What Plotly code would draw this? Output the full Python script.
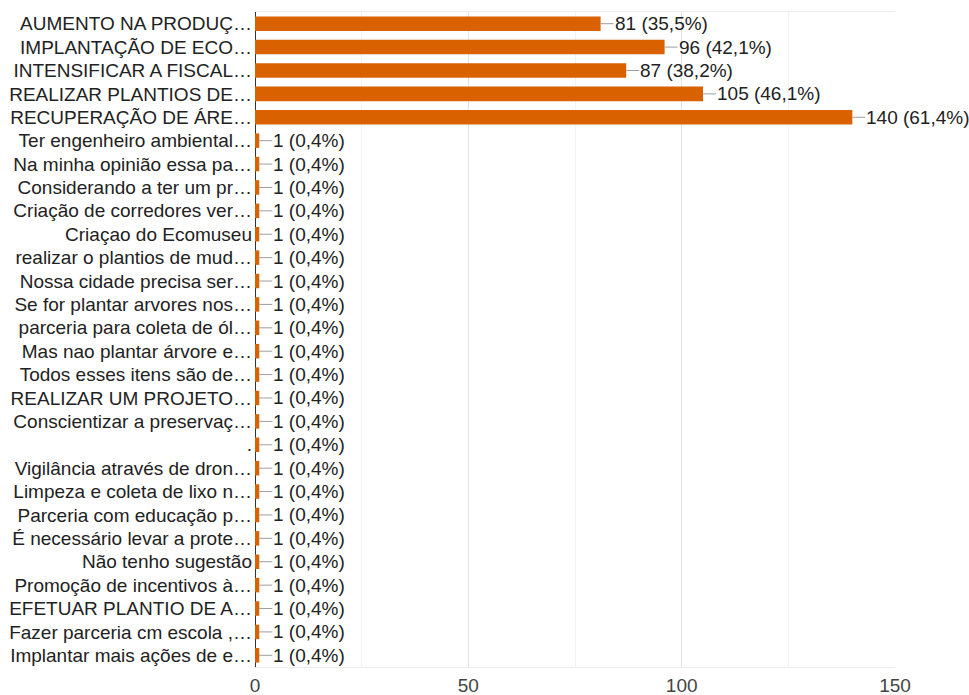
import plotly.graph_objects as go

categories = [
    "AUMENTO NA PRODUÇ…",
    "IMPLANTAÇÃO DE ECO…",
    "INTENSIFICAR A FISCAL…",
    "REALIZAR PLANTIOS DE…",
    "RECUPERAÇÃO DE ÁRE…",
    "Ter engenheiro ambiental…",
    "Na minha opinião essa pa…",
    "Considerando a ter um pr…",
    "Criação de corredores ver…",
    "Criaçao do Ecomuseu",
    "realizar o plantios de mud…",
    "Nossa cidade precisa ser…",
    "Se for plantar arvores nos…",
    "parceria para coleta de ól…",
    "Mas nao plantar árvore e…",
    "Todos esses itens são de…",
    "REALIZAR UM PROJETO…",
    "Conscientizar a preservaç…",
    ".",
    "Vigilância através de dron…",
    "Limpeza e coleta de lixo n…",
    "Parceria com educação p…",
    "É necessário levar a prote…",
    "Não tenho sugestão",
    "Promoção de incentivos à…",
    "EFETUAR PLANTIO DE A…",
    "Fazer parceria cm escola ,…",
    "Implantar mais ações de e…",
]
counts = [81, 96, 87, 105, 140] + [1] * 23
percents = ["35,5%", "42,1%", "38,2%", "46,1%", "61,4%"] + ["0,4%"] * 23
x_ticks = [0, 50, 100, 150]

BAR = "#d96100"
FONT = "Liberation Sans, Arial, sans-serif"
FS = 19

fig = go.Figure(
    go.Bar(
        x=counts,
        y=categories,
        orientation="h",
        marker=dict(color=BAR, line=dict(width=0)),
        hoverinfo="skip",
    )
)

for c, v, p in zip(categories, counts, percents):
    fig.add_annotation(
        x=v, y=c, xref="x", yref="y",
        text=f"{v} ({p})",
        showarrow=True, arrowhead=0, arrowwidth=1, arrowcolor="#9e9e9e",
        ax=13, ay=0, xanchor="left", yanchor="middle",
        font=dict(family=FONT, size=FS, color="#222222"),
        standoff=0, startstandoff=0,
        borderpad=0,
    )

fig.update_layout(
    width=969, height=695,
    margin=dict(l=255, r=74, t=12, b=28),
    paper_bgcolor="white", plot_bgcolor="white",
    bargap=0.38,
    showlegend=False,
    font=dict(family=FONT, size=FS, color="#222222"),
)
fig.update_xaxes(
    range=[0, 150], tickvals=x_ticks, ticks="",
    showgrid=True, gridcolor="#e3e3e3", gridwidth=1,
    minor=dict(dtick=25, showgrid=True, gridcolor="#f2f2f2", gridwidth=1),
    zeroline=True, zerolinecolor="#333333", zerolinewidth=1,
    showline=True, linecolor="#ebebeb", mirror=True,
    tickfont=dict(family=FONT, size=FS, color="#444444"),
    ticklabelstandoff=1,
    automargin=False,
    fixedrange=True,
)
fig.update_yaxes(
    autorange="reversed", type="category",
    showgrid=False, ticks="",
    tickfont=dict(family=FONT, size=FS, color="#222222"),
    ticklabelstandoff=2,
    automargin=False,
    fixedrange=True,
)

fig.write_html(
    "out.html",
    config={"displayModeBar": False, "staticPlot": True},
    post_script="document.body.style.margin='0';document.documentElement.style.overflow='hidden';",
)
